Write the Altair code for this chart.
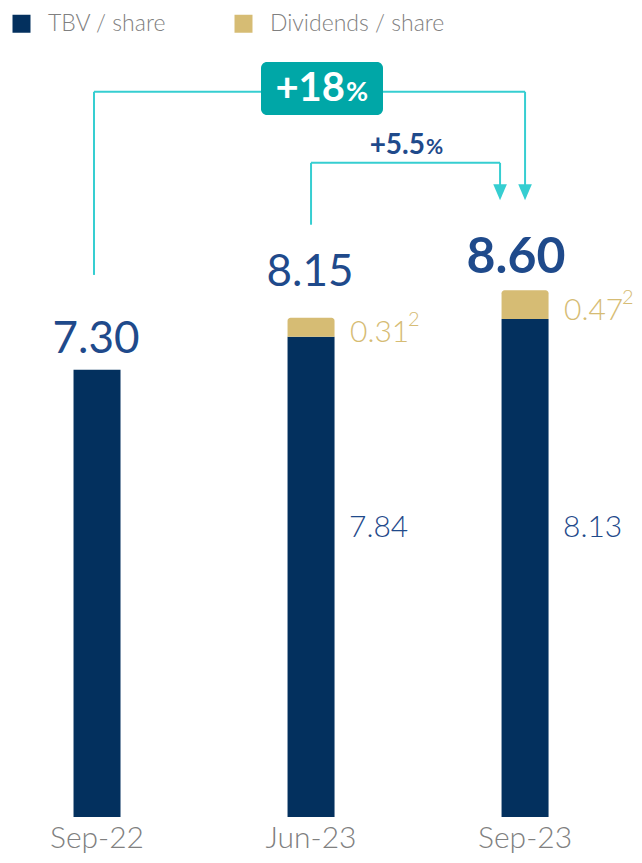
import altair as alt
import pandas as pd

categories = ["Sep-22", "Jun-23", "Sep-23"]
tbv_per_share = [7.30, 7.84, 8.13]
dividends_per_share = [0.00, 0.31, 0.47]
total_per_share = [7.30, 8.15, 8.60]
series = ["TBV / share", "Dividends / share"]
growth_labels = ["+18", "+5.5"]

NAVY = "#03305E"
GOLD = "#D6BC74"
TEAL = "#36CED1"
BOX = "#00A7A7"
BLUE = "#1F4A8B"
GREY = "#808080"
FONT = "Lato"

df = pd.DataFrame({"cat": categories, "tbv": tbv_per_share,
                   "div": dividends_per_share, "total": total_per_share})

x_scale = alt.Scale(domain=categories, paddingInner=0.7804, paddingOuter=0.3527, align=0.434)
y_scale = alt.Scale(domain=[0, 13.208], nice=False, zero=True)
color_scale = alt.Scale(domain=series, range=[NAVY, GOLD])

X = alt.X("cat:N", scale=x_scale, sort=categories,
          axis=alt.Axis(title=None, labelFont=FONT, labelFontSize=30, labelFontWeight=300,
                        labelColor=GREY, labelPadding=30, labelBaseline="alphabetic",
                        ticks=False, domain=False, labelAngle=0, grid=False))
legend = alt.Legend(title=None, orient="none", legendX=2, legendY=4, direction="horizontal",
                    symbolType="square", symbolSize=324, symbolStrokeWidth=0,
                    labelFont=FONT, labelFontSize=23, labelFontWeight=300, labelColor=GREY,
                    labelOffset=15, labelLimit=400, columnPadding=65, padding=0)
C = alt.Color("series:N", scale=color_scale, legend=legend)

base = alt.Chart(df)

tbv_bars = base.transform_calculate(series="'TBV / share'").mark_bar().encode(
    x=X, y=alt.Y("tbv:Q", scale=y_scale, axis=None), color=C)

div_bars = base.transform_filter("datum.div > 0").transform_calculate(
    series="'Dividends / share'").mark_bar(cornerRadiusTopLeft=3, cornerRadiusTopRight=3).encode(
    x=X, y=alt.Y("tbv:Q", scale=y_scale, axis=None), y2="total:Q", color=C)


def total_label(cat, dy, dx=0, size=44, weight=400):
    return base.transform_filter(alt.datum.cat == cat).mark_text(
        font=FONT, fontSize=size, fontWeight=weight, color=BLUE, baseline="alphabetic",
        dy=dy, dx=dx).encode(x=X, y=alt.Y("total:Q", scale=y_scale, axis=None),
                             text=alt.Text("total:Q", format=".2f"))


lbl1 = total_label(categories[0], -17, -1)
lbl2 = total_label(categories[1], -32, -1)
lbl3 = total_label(categories[2], -17, -9, size=50, weight=700)

div_src = base.transform_filter("datum.div > 0").transform_calculate(
    mid="datum.tbv + datum.div / 2")
div_labels = div_src.mark_text(
    font=FONT, fontSize=30, fontWeight=300, color=GOLD, align="left", baseline="alphabetic",
    dx=39, dy=15).encode(x=X, y=alt.Y("mid:Q", scale=y_scale, axis=None),
                         text=alt.Text("div:Q", format=".2f"))
div_sup = div_src.mark_text(
    font=FONT, fontSize=20, fontWeight=300, color=GOLD, align="left", baseline="alphabetic",
    dx=97, dy=-1).encode(x=X, y=alt.Y("mid:Q", scale=y_scale, axis=None),
                         text=alt.value("2"))

tbv_labels = base.transform_filter("datum.div > 0").mark_text(
    font=FONT, fontSize=30, fontWeight=300, color=BLUE, align="left", baseline="middle",
    dx=38).encode(x=X, y=alt.value(520), text=alt.Text("tbv:Q", format=".2f"))

# bracket annotations (y in data units)
big_top, big_start, small_top, small_start, arrow_y = 11.84, 8.85, 10.68, 9.67, 10.2
ann = alt.Chart(pd.DataFrame({"a": [0]}))


def vrule(cat, y1, y2, off=0):
    return ann.transform_calculate(cat=f"'{cat}'", v1=str(y1), v2=str(y2)).mark_rule(
        color=TEAL, strokeWidth=2, xOffset=off).encode(
        x=X, y=alt.Y("v1:Q", scale=y_scale, axis=None), y2="v2:Q")


def hrule(c1, c2, yv, off1=0, off2=0):
    return ann.transform_calculate(cat=f"'{c1}'", cat2=f"'{c2}'", v=str(yv)).mark_rule(
        color=TEAL, strokeWidth=2, xOffset=off1, x2Offset=off2).encode(
        x=X, x2="cat2:N", y=alt.Y("v:Q", scale=y_scale, axis=None))


def arrow(cat, off=0):
    return ann.transform_calculate(cat=f"'{cat}'", v=str(arrow_y)).mark_point(
        shape="M-0.85,-1L0.85,-1L0,1Z", size=256, filled=True, opacity=1,
        color=TEAL, xOffset=off).encode(x=X, y=alt.Y("v:Q", scale=y_scale, axis=None))


rules = [
    vrule(categories[0], big_start, big_top, -3),
    hrule(categories[0], categories[2], big_top, -3, 0),
    vrule(categories[2], big_top, arrow_y, 0),
    vrule(categories[1], small_start, small_top, 0),
    hrule(categories[1], categories[2], small_top, 0, -25),
    vrule(categories[2], small_top, arrow_y, -25),
    arrow(categories[2], 0),
    arrow(categories[2], -25),
]

gl = alt.Chart(pd.DataFrame({"big": [growth_labels[0]], "small": [growth_labels[1]]}))
box = gl.mark_rect(cornerRadius=6, color=BOX).encode(
    x=alt.value(253), x2=alt.value(375), y=alt.value(54), y2=alt.value(107))
big_txt = gl.mark_text(font=FONT, fontSize=40, fontWeight=700, color="white",
                       align="right", baseline="alphabetic").encode(
    x=alt.value(337), y=alt.value(93), text="big:N")
big_pct = gl.mark_text(font=FONT, fontSize=27, fontWeight=700, color="white",
                       align="left", baseline="alphabetic").encode(
    x=alt.value(338), y=alt.value(93), text=alt.value("%"))
small_txt = gl.mark_text(font=FONT, fontSize=28, fontWeight=700, color=BLUE,
                         align="right", baseline="alphabetic").encode(
    x=alt.value(417), y=alt.value(146), text="small:N")
small_pct = gl.mark_text(font=FONT, fontSize=21, fontWeight=700, color=BLUE,
                         align="left", baseline="alphabetic").encode(
    x=alt.value(418), y=alt.value(146), text=alt.value("%"))

chart = alt.layer(tbv_bars, div_bars, lbl1, lbl2, lbl3, div_labels, div_sup, tbv_labels,
                  *rules, box, big_txt, big_pct, small_txt, small_pct).properties(
    width=626, height=809,
    autosize=alt.AutoSizeParams(type="none"),
    padding={"left": 0, "top": 0, "right": 0, "bottom": 38},
).configure(background="white").configure_view(stroke="transparent", strokeWidth=0)

chart.save("out.html", embed_options={"renderer": "svg", "actions": False})
